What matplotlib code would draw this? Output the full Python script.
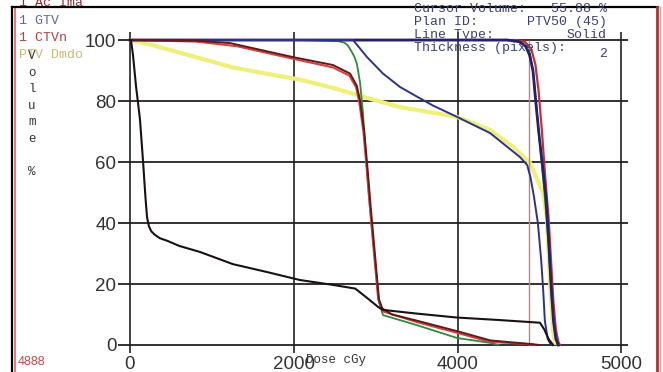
import matplotlib
matplotlib.use('Agg')
import matplotlib.pyplot as plt
from matplotlib.lines import Line2D

# dose (cGy, on the chart's own scale) / volume (%)
black_dose = [0, 12, 37, 73, 122, 160, 190, 208, 230, 260, 300, 366, 452, 600, 855, 1258, 1661,
              2076, 2479, 2750, 2882, 2960, 3028, 3089, 3500, 3993, 4500, 5006, 5060, 5110, 5165]
black_vol = [100, 100, 95, 85, 74, 60, 48, 42, 39, 37.3, 36.2, 35, 34.2, 32.5, 30.5, 26.5, 24,
             21.3, 19.7, 18.5, 15.7, 14, 12.5, 11.5, 10.3, 9, 8.2, 7.3, 5, 2, 0]

maroon_dose = [0, 800, 1221, 1990, 2479, 2687, 2770, 2810, 2860, 2900, 2940, 2990, 3040, 3080,
               3200, 3500, 4000, 4400, 4900, 5000]
maroon_vol = [100, 99.8, 99, 94.4, 91.8, 89, 85, 80, 70, 58, 45, 30, 15, 12,
              10, 8, 4.5, 1.5, 0.3, 0]

red_dose = [0, 800, 1300, 2000, 2480, 2680, 2760, 2800, 2850, 2890, 2930, 2980, 3030, 3089,
            3504, 3993, 4396, 4884, 4950]
red_vol = [100, 99.5, 98, 93.8, 91, 88.3, 84.5, 79.5, 70, 58, 45, 30, 15, 11,
           7.5, 4, 1, 0.3, 0]

green_dose = [0, 2076, 2550, 2620, 2660, 2700, 2740, 2772, 2809, 2845, 2880, 2920, 2990, 3040,
              3089, 3504, 3993, 4396, 4500]
green_vol = [100, 100, 99.6, 99.1, 98.2, 96.5, 94.5, 92, 86, 76, 62, 48, 28, 14,
             9.8, 6.5, 2.3, 0.7, 0]

blue_dose = [0, 2723, 2800, 2894, 3089, 3297, 3500, 3700, 3993, 4396, 4762, 4850, 4890,
             4930, 4980, 5020, 5045, 5065, 5100, 5140]
blue_vol = [100, 100, 97.5, 94.4, 89, 84.6, 81.5, 78.5, 74.8, 69.5, 61.6, 59, 55,
            49, 40, 28, 18, 8, 2, 0]

yellow_dose = [0, 250, 855, 1258, 1661, 2076, 2479, 2894, 3297, 3993, 4396, 4677, 4884,
               5043, 5092, 5128, 5165, 5190]
yellow_vol = [100, 98.5, 94, 91, 89, 87, 84.3, 81, 78, 74.8, 70.5, 65, 59.7,
              49.8, 41, 21, 4.9, 0]

navy_dose = [0, 4600, 4750, 4830, 4880, 4920, 4950, 4990, 5040, 5080, 5110, 5140, 5170,
             5200, 5230]
navy_vol = [100, 100, 99.5, 98, 95, 90, 81, 70, 58, 48, 35, 20, 8, 2, 0]

ptv_red_dose = [0, 4700, 4820, 4900, 4950, 4990, 5030, 5070, 5110, 5140, 5170, 5200, 5230, 5250]
ptv_red_vol = [100, 100, 99.5, 97, 92, 83, 70, 55, 42, 28, 14, 5, 1, 0]

ptv_green_dose = [0, 4650, 4800, 4880, 4930, 4970, 5010, 5060, 5110, 5150, 5190, 5220]
ptv_green_vol = [100, 100, 99, 96, 88, 76, 64, 50, 33, 15, 4, 0]

rx_dose = 4870

x_ticks = [0, 2000, 4000, 6000]
x_labels = ['0', '2000', '4000', '5000']
y_ticks = [0, 20, 40, 60, 80, 100]
y_labels = ['0', '20', '40', '60', '80', '100']

legend_names = ['1 Ac Ima', '1 GTV', '1 CTVn', 'PTV Dmdo']
legend_colors = ['#8a3030', '#5a6aa0', '#b84040', '#cdb878']
info_keys = ['Cursor Volume:', 'Plan ID:', 'Line Type:', 'Thickness (pixels):']
info_vals = ['55.88 %', 'PTV50 (45)', 'Solid', '2']

W, H = 663, 372
fig = plt.figure(figsize=(W / 100, H / 100), dpi=100)
fig.patch.set_facecolor('white')
ax = fig.add_axes([117.7 / W, 0.048, 511.9 / W, 0.869])
ax.set_xlim(-150, 6100)
ax.set_ylim(-3, 103)
for s in ax.spines.values():
    s.set_visible(False)

grid_c = '#222222'
ax.hlines(y_ticks, -150, 6080, color=grid_c, lw=1.3, zorder=1)
ax.vlines(x_ticks, -2.5, 102.5, color=grid_c, lw=1.2, zorder=1)

ax.plot(yellow_dose, yellow_vol, color='#eef07a', lw=3.0, zorder=2, solid_capstyle='butt')
ax.plot(ptv_green_dose, ptv_green_vol, color='#3a8a4a', lw=1.3, zorder=3)
ax.plot(ptv_red_dose, ptv_red_vol, color='#c83030', lw=1.6, zorder=3)
ax.plot(navy_dose, navy_vol, color='#22226a', lw=2.0, zorder=4)
ax.plot(blue_dose, blue_vol, color='#2c3488', lw=1.4, zorder=4)
ax.plot(green_dose, green_vol, color='#2f8a3c', lw=1.3, zorder=3)
ax.plot(red_dose, red_vol, color='#d84040', lw=1.5, zorder=3)
ax.plot(maroon_dose, maroon_vol, color='#5a1c1c', lw=1.4, zorder=4)
ax.plot(black_dose, black_vol, color='#1a1212', lw=1.5, zorder=5)
ax.vlines(rx_dose, 0, 100, color='#d87878', lw=1.0, zorder=2)

tick_font = ['Liberation Sans', 'DejaVu Sans']
ax.set_xticks(x_ticks, x_labels, family=tick_font, fontsize=13.5, color='#333333')
ax.set_yticks(y_ticks, y_labels, family=tick_font, fontsize=13.5, color='#333333')
ax.tick_params(length=0, pad=1)


def px(x, y):
    return x / W, 1 - y / H


mono = ['Liberation Mono', 'DejaVu Sans Mono']
# structure names top left
for i, (name, c) in enumerate(zip(legend_names, legend_colors)):
    fig.text(*px(19, 3 + i * 17.5), name, color=c, family=mono, fontsize=9.5,
             va='center', ha='left')

# vertical y label
for i, ch in enumerate('Volume'):
    fig.text(*px(32, 56 + i * 16.5), ch, color='#333333', family=mono, fontsize=9,
             va='center', ha='center')
fig.text(*px(32, 172), '%', color='#333333', family=mono, fontsize=9, va='center', ha='center')

# info block top right
for i, (k, v) in enumerate(zip(info_keys, info_vals)):
    yy = 9 + i * 13
    fig.text(*px(414, yy), k, color='#3c4070', family=mono, fontsize=9.5,
             va='center', ha='left')
    fig.text(*px(607, yy + (6 if i == 3 else 0)), v, color='#3c4070',
             family=mono, fontsize=9.5, va='center', ha='right')

fig.text(*px(18, 362), '4888', color='#c84848', family=tick_font, fontsize=9, va='center')
fig.text(*px(306, 360), 'Dose cGy', color='#333333', family=mono, fontsize=9, va='center')

# window frame
fig.add_artist(Line2D([12 / W, 12 / W], [0, 1 - 7 / H], color='black', lw=1.6,
                      transform=fig.transFigure))
fig.add_artist(Line2D([15 / W, 15 / W], [0, 1 - 8 / H], color='#e06060', lw=1.2,
                      transform=fig.transFigure))
fig.add_artist(Line2D([12 / W, 658 / W], [1 - 7 / H, 1 - 7 / H], color='black', lw=1.6,
                      transform=fig.transFigure))
fig.add_artist(Line2D([657 / W, 657 / W], [0, 1 - 7 / H], color='#b03030', lw=2.0,
                      transform=fig.transFigure))
fig.add_artist(Line2D([660 / W, 660 / W], [0, 1 - 7 / H], color='#d0a0a0', lw=1.0,
                      transform=fig.transFigure))

fig.savefig('out.png', dpi=100)
